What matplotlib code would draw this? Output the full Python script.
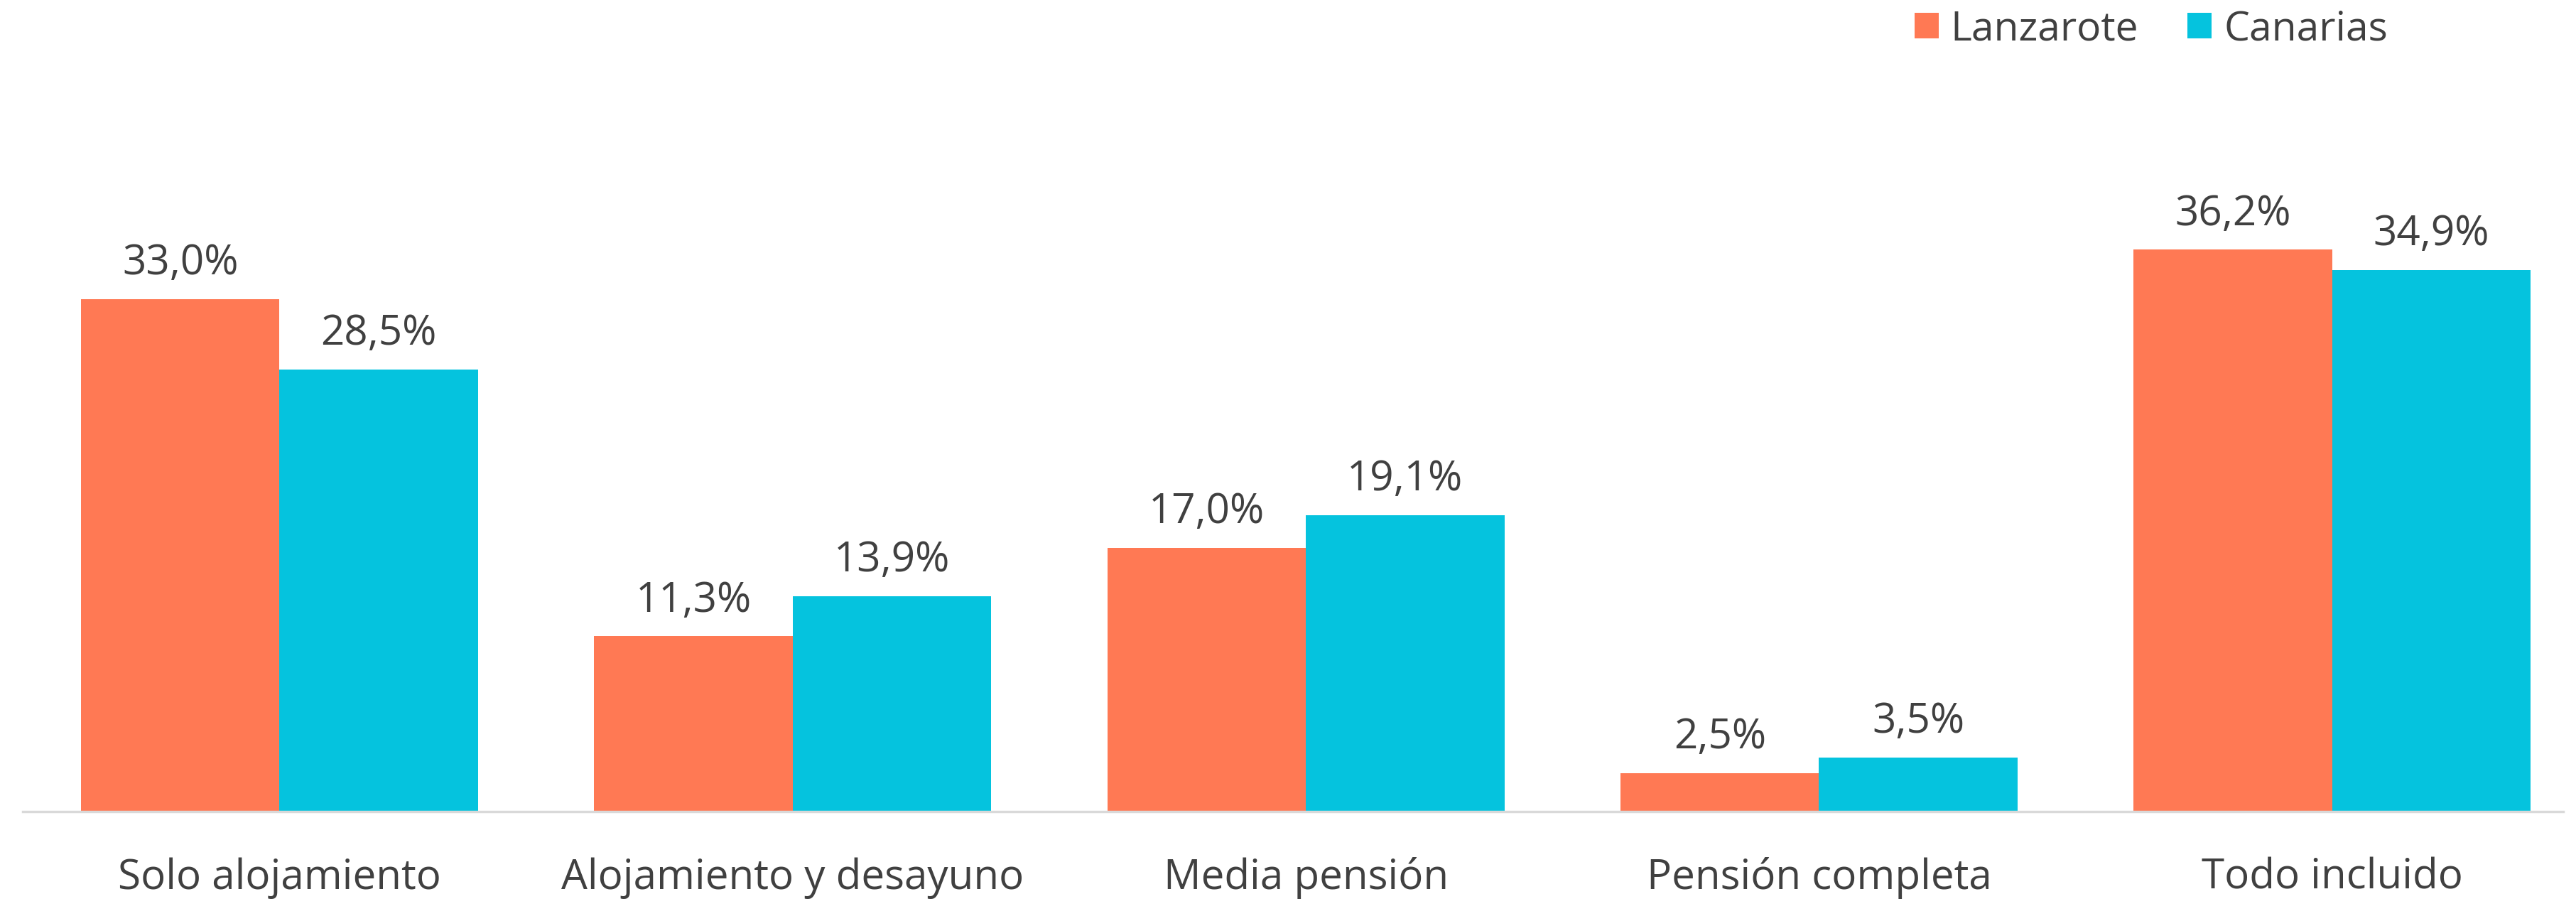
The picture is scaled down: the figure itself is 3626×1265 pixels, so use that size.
import numpy as np
import matplotlib.pyplot as plt

# Tipo de régimen alojativo (%)
categories = ['Solo alojamiento', 'Alojamiento y desayuno', 'Media pensión',
              'Pensión completa', 'Todo incluido']
lanzarote = [33.0, 11.3, 17.0, 2.5, 36.2]
canarias = [28.5, 13.9, 19.1, 3.5, 34.9]
series_names = ['Lanzarote', 'Canarias']

ORANGE = '#FF7954'
CYAN = '#05C3DE'
TEXT = '#404040'

plt.rcParams['font.family'] = ['Open Sans', 'DejaVu Sans']

fig = plt.figure(figsize=(36.26, 12.65), dpi=100)
ax = fig.add_axes([0.0089, 0.0969, 0.9861, 0.691])

x = np.arange(len(categories))
w = 0.387
b1 = ax.bar(x - w / 2, lanzarote, w, color=ORANGE, label=series_names[0])
b2 = ax.bar(x + w / 2, canarias, w, color=CYAN, label=series_names[1])

# value labels
for bars, vals in ((b1, lanzarote), (b2, canarias)):
    for rect, v in zip(bars, vals):
        ax.annotate(f'{v:.1f}%'.replace('.', ','),
                    (rect.get_x() + rect.get_width() / 2, rect.get_height()),
                    xytext=(0, 15), textcoords='offset points',
                    ha='center', va='bottom', fontsize=42, color=TEXT)

ax.set_xlim(-0.5, 4.45)
ax.set_ylim(0, 40)
ax.set_xticks(x)
ax.set_xticklabels(categories, fontsize=42, color=TEXT)
ax.tick_params(axis='x', length=0, pad=46)
ax.set_yticks([])

for s in ('top', 'right', 'left'):
    ax.spines[s].set_visible(False)
ax.spines['bottom'].set_color('#D9D9D9')
ax.spines['bottom'].set_linewidth(2.5)

fig.legend(loc='center', bbox_to_anchor=(0.835, 0.967), ncol=2, frameon=False,
           fontsize=41, handlelength=0.6, handleheight=0.6, handletextpad=0.3,
           columnspacing=1.2, labelcolor=TEXT)

fig.savefig('out.png', dpi=100, facecolor='white')
